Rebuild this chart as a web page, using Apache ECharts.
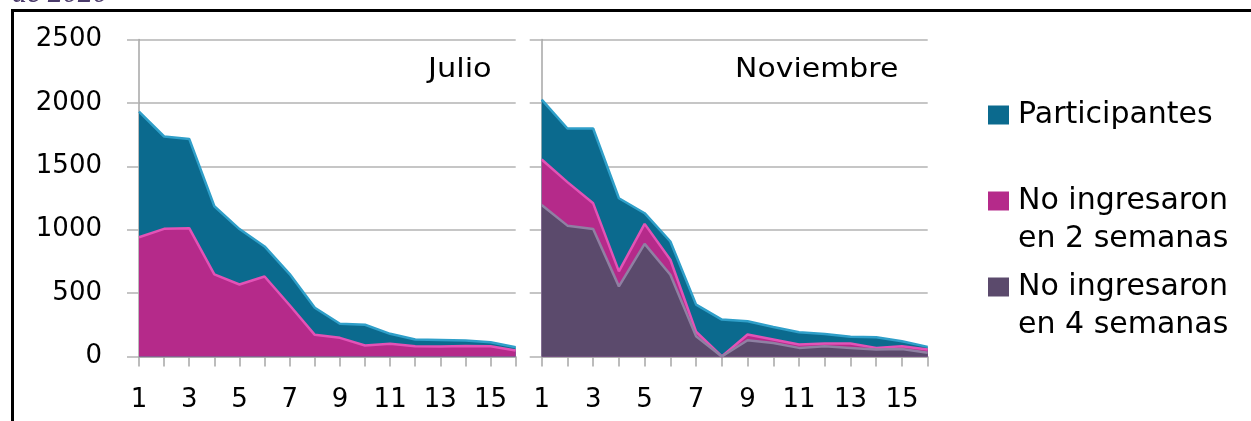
<!DOCTYPE html>
<html><head><meta charset="utf-8">
<script src="https://cdn.jsdelivr.net/npm/echarts@6/dist/echarts.min.js"></script>
<style>html,body{margin:0;padding:0;background:#fff}#c{width:1251px;height:421px}</style>
</head><body><div id="c"></div>
<script>
// ---- data ----
const categories = ['1','2','3','4','5','6','7','8','9','10','11','12','13','14','15','16'];
const yTickMin = 0, yTickMax = 2500, yTickStep = 500;
const seriesNames = ['Participantes', 'No ingresaron\nen 2 semanas', 'No ingresaron\nen 4 semanas'];
const panelTitles = ['Julio', 'Noviembre'];
const julioParticipantes = [1932, 1735, 1716, 1185, 1005, 868, 650, 384, 258, 250, 179, 134, 130, 126, 113, 73];
const julioNoIngreso2    = [ 940, 1007, 1012,  647,  568, 631, 404, 171, 147,  87, 100,  81,  79,  82,  80, 47];
const novParticipantes   = [2026, 1798, 1798, 1248, 1130, 907, 409, 291, 278, 233, 191, 178, 155, 152, 120, 76];
const novNoIngreso2      = [1554, 1375, 1208,  671, 1046, 763, 195,   0, 173, 134,  94, 102, 102,  68,  81, 55];
const novNoIngreso4      = [1195, 1032, 1006,  553,  888, 645, 160,   0, 128, 107,  68,  81,  68,  55,  60, 29];
const topNote = 'de 2020';

// ---- styles ----
const FONT = 'DejaVu Sans';
const C_BLUE = '#0b6a8e', C_BLUE_EDGE = '#2f9fc9';
const C_PINK = '#b52a8a', C_PINK_EDGE = '#e352b6';
const C_PURP = '#5b4a6c', C_PURP_EDGE = '#8f80a3';
const GRID_C = '#b3b3b3';

const chart = echarts.init(document.getElementById('c'), null, {renderer: 'canvas'});

function xAxis(gridIndex) {
  return {
    type: 'category', gridIndex, data: categories, boundaryGap: false,
    axisLine: {show: true, lineStyle: {color: '#a6a6a6', width: 1.5}},
    axisTick: {show: true, interval: 0, length: 10, lineStyle: {color: '#a6a6a6', width: 1.5}},
    axisLabel: {interval: 1, margin: 31, color: '#000', fontFamily: FONT, fontSize: 26},
    splitLine: {show: false}
  };
}
function yAxis(gridIndex, showLabels) {
  return {
    type: 'value', gridIndex, min: yTickMin, max: yTickMax, interval: yTickStep,
    axisLine: {show: true, lineStyle: {color: '#a6a6a6', width: 1.5}},
    axisTick: {show: true, length: 12, lineStyle: {color: GRID_C, width: 1.5}},
    axisLabel: {show: showLabels, margin: 37, color: '#000', fontFamily: FONT, fontSize: 26,
      formatter: v => String(v)},
    splitLine: {show: true, lineStyle: {color: GRID_C, width: 1.5}}
  };
}
function area(name, data, gi, fill, edge) {
  return {
    type: 'line', name, data, xAxisIndex: gi, yAxisIndex: gi,
    symbol: 'none', smooth: false, silent: true,
    lineStyle: {color: edge, width: 2.5},
    areaStyle: {color: fill, opacity: 1},
    itemStyle: {color: fill},
    emphasis: {disabled: true}
  };
}
function legend(name, iconCenter, twoLine) {
  return {
    data: [{name, icon: 'rect'}], left: 988,
    top: iconCenter - (twoLine ? 57 : 19), orient: 'vertical',
    padding: 0, itemWidth: 21, itemHeight: 19, selectedMode: false,
    formatter: twoLine ? (n => '\n' + n) : (n => n),
    textStyle: {fontFamily: FONT, fontSize: 30, color: '#000', lineHeight: 38,
      padding: [0, 0, 0, 4]}
  };
}

chart.setOption({
  backgroundColor: '#fff',
  animation: false,
  grid: [
    {left: 139, top: 39.5, width: 376.7, height: 317},
    {left: 541.7, top: 39.5, width: 386, height: 317}
  ],
  xAxis: [xAxis(0), xAxis(1)],
  yAxis: [yAxis(0, true), yAxis(1, false)],
  legend: [
    legend(seriesNames[0], 115, false),
    legend(seriesNames[1], 201, true),
    legend(seriesNames[2], 287, true)
  ],
  series: [
    area(seriesNames[0], julioParticipantes, 0, C_BLUE, C_BLUE_EDGE),
    area(seriesNames[1], julioNoIngreso2, 0, C_PINK, C_PINK_EDGE),
    area(seriesNames[0], novParticipantes, 1, C_BLUE, C_BLUE_EDGE),
    area(seriesNames[1], novNoIngreso2, 1, C_PINK, C_PINK_EDGE),
    area(seriesNames[2], novNoIngreso4, 1, C_PURP, C_PURP_EDGE)
  ],
  graphic: [
    {type: 'rect', silent: true, shape: {x: 12.5, y: 10.5, width: 1400, height: 700},
      style: {fill: 'none', stroke: '#000', lineWidth: 3}},
    {type: 'text', silent: true, x: 12, y: 9,
      style: {text: topNote, font: 'italic 30px "Liberation Serif"', fill: '#4b3b6b', verticalAlign: 'bottom'}},
    {type: 'text', silent: true, x: 491.7, y: 70, scaleX: 1.17,
      style: {text: panelTitles[0], font: '26px "DejaVu Sans"', fill: '#000', align: 'right', verticalAlign: 'middle'}},
    {type: 'text', silent: true, x: 898.3, y: 70, scaleX: 1.15,
      style: {text: panelTitles[1], font: '26px "DejaVu Sans"', fill: '#000', align: 'right', verticalAlign: 'middle'}}
  ]
});
</script></body></html>
